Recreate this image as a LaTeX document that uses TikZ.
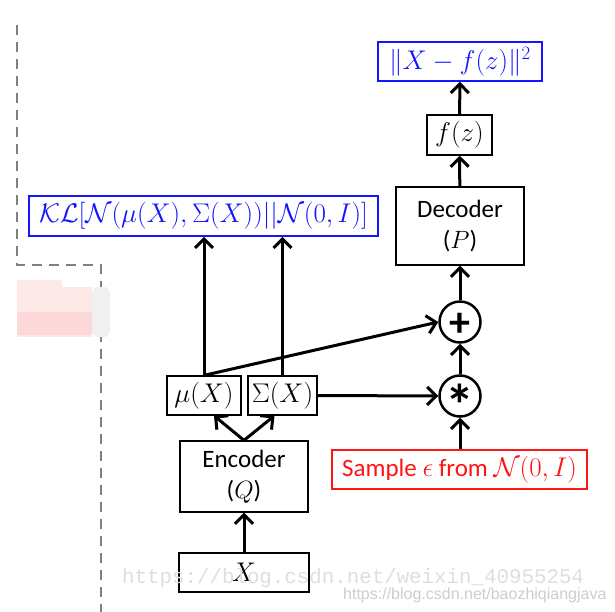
\RequirePackage{fix-cm}
\documentclass[tikz,border=0pt]{standalone}
\usepackage{fontspec}
\setsansfont{Carlito}
\newfontfamily\wmmono{Liberation Mono}
\newfontfamily\wmsans{Liberation Sans}
\usetikzlibrary{arrows.meta}
\definecolor{dgray}{RGB}{128,128,128}
\definecolor{pblue}{RGB}{20,20,255}
\definecolor{pred}{RGB}{255,20,20}
\definecolor{pink1}{RGB}{253,232,232}
\definecolor{pink2}{RGB}{252,216,216}
\definecolor{mgray}{RGB}{240,240,240}
\definecolor{wm1}{RGB}{222,222,222}
\definecolor{wm2}{RGB}{205,205,205}
\newcommand\mathsz{\fontsize{27}{30}\selectfont}
\newcommand\sanssz{\fontsize{25}{31}\selectfont\sffamily}
\tikzset{
  blk/.style={draw, line width=1.3pt, inner sep=0pt, font=\mathsz},
  bluebox/.style={blk, draw=pblue, line width=1.6pt, text=pblue},
  redbox/.style={blk, draw=pred, line width=1.6pt, text=pred},
  opnode/.style={draw, circle, line width=2.5pt, minimum size=41pt, inner sep=0pt, font=\sffamily\bfseries},
  arr/.style={line width=3pt, -{Straight Barb[length=9pt,width=18pt]}},
  dline/.style={draw=dgray, line width=2.8pt, dash pattern=on 10pt off 7pt}
}
\begin{document}
\begin{tikzpicture}[x=1pt,y=-1pt]
\useasboundingbox (0,0) rectangle (615,612);
% dashed frame
\draw[dline] (17,25) -- (17,265) -- (101,265) -- (101,612);
% mosaic blob
\fill[pink1] (17,280) rectangle (62,337);
\fill[pink1] (62,287) rectangle (92,337);
\fill[pink2] (17,312) rectangle (92,335);
\fill[mgray, rounded corners=6pt] (92,287) rectangle (110,337);
% nodes
\node[bluebox, minimum width=164pt, minimum height=39pt] (norm) at (460,61.5) {$\|X-f(z)\|^2$};
\node[blk, minimum width=65pt, minimum height=40pt] (fz) at (459.5,135) {$f(z)$};
\node[blk, minimum width=128pt, minimum height=78pt, font=\sanssz, align=center] (dec) at (460,226) {Decoder\\($P$)};
\node[opnode] (plus) at (460,322) {\fontsize{42}{42}\selectfont\makebox[0pt]{\raisebox{-14pt}[0pt][0pt]{+}}};
\node[opnode] (star) at (460,396) {\fontsize{58}{58}\selectfont\makebox[0pt]{\raisebox{-29pt}[0pt][0pt]{*}}};
\node[redbox, minimum width=255pt, minimum height=39pt, font=\sanssz] (sample) at (459.5,469.5) {Sample {\mathsz$\epsilon$} from {\mathsz$\mathcal{N}(0,I)$}};
\node[bluebox, minimum width=349pt, minimum height=40pt] (kl) at (203.5,216) {$\mathcal{KL}[\mathcal{N}(\mu(X),\Sigma(X))||\mathcal{N}(0,I)]$};
\node[blk, minimum width=74pt, minimum height=39pt] (mu) at (204,395.5) {$\mu(X)$};
\node[blk, minimum width=69pt, minimum height=39pt] (sig) at (282.5,395.5) {$\Sigma(X)$};
\node[blk, minimum width=128pt, minimum height=71pt, font=\sanssz, align=center] (enc) at (244,476.5) {Encoder\\($Q$)};
\node[blk, minimum width=130pt, minimum height=39pt] (x) at (244,572.5) {$X$};
% connectors
\draw[arr] (x) -- (enc);
\draw[arr] (enc.north) -- ([xshift=10pt]mu.south);
\draw[arr] (enc.north) -- ([xshift=-8pt]sig.south);
\draw[arr] (mu.north) -- (mu.north |- kl.south);
\draw[arr] (sig.north) -- (sig.north |- kl.south);
\draw[arr] (mu.north) -- (plus.west);
\draw[arr] (sig.east) -- (star.west);
\draw[arr] (sample.north -| star) -- (star.south);
\draw[arr] (star) -- (plus);
\draw[arr] (plus) -- (dec);
\draw[arr] (dec) -- (fz);
\draw[arr] (fz) -- (norm);
% watermark
\node[anchor=base west, inner sep=0pt, text=wm1, font=\wmmono\fontsize{20.8}{22}\selectfont] (wm1) at (122,583) {https://blog.csdn.net/weixin\_40955254};
\node[anchor=base west, inner sep=0pt, text=wm2, font=\wmsans\fontsize{16}{18}\selectfont] (wm2) at (343,599) {https://blog.csdn.net/baozhiqiangjava};
\end{tikzpicture}
\end{document}
